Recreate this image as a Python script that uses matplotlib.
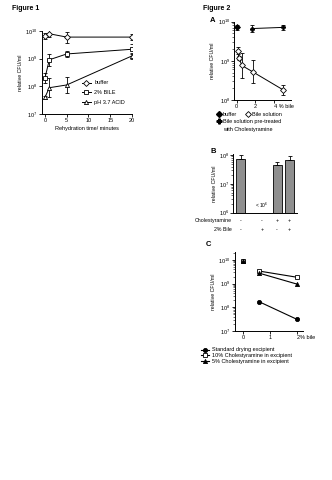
import numpy as np
import matplotlib.pyplot as plt
from matplotlib.lines import Line2D
from matplotlib.ticker import NullLocator, FixedLocator
import matplotlib.transforms as mtrans

plt.rcParams['font.family'] = ['Liberation Sans', 'DejaVu Sans']
plt.rcParams['mathtext.fontset'] = 'custom'
plt.rcParams['mathtext.rm'] = 'Liberation Sans'
plt.rcParams['mathtext.default'] = 'rm'

# ---- Figure 1: rehydration time course (log10 CFU/ml, +/- log10 SD)
time_min = [0, 1, 5, 20]
buffer_log = [9.82, 9.9, 9.78, 9.78]
buffer_err = [0.1, 0.12, 0.2, 0.1]
bile_log = [8.3, 8.96, 9.17, 9.34]
bile_err = [0.18, 0.22, 0.1, 0.18]
acid_log = [7.6, 7.95, 8.05, 9.1]
acid_err = [0.05, 0.35, 0.28, 0.12]

# ---- Figure 2A: % bile
a_buffer_x = [0]
a_buffer_log = [9.85]
a_buffer_err = [0.06]
a_bile_x = [0.1, 0.25, 0.55, 1.7, 4.95]
a_bile_log = [9.26, 9.08, 8.88, 8.72, 8.26]
a_bile_err = [0.1, 0.05, 0.32, 0.29, 0.12]
a_pre_x = [1.6, 4.95]
a_pre_log = [9.82, 9.85]
a_pre_err = [0.09, 0.07]

# ---- Figure 2B: bars (None = below detection)
b_log = [7.85, None, 7.65, 7.83]
b_err = [0.15, 0, 0.12, 0.13]
b_chol = ['-', '-', '+', '+']
b_bile = ['-', '+', '-', '+']

# ---- Figure 2C
c_x = [0.6, 2]
c_zero_log = 9.97
c_standard_log = [8.23, 7.49]
c_chol10_log = [9.53, 9.27]
c_chol5_log = [9.44, 8.98]

W, H = 332, 480
fig = plt.figure(figsize=(W / 100, H / 100), dpi=100)


def rect(l, t, r, b):
    return [l / W, 1 - b / H, (r - l) / W, (b - t) / H]


def logerr(lv, e):
    lv = np.array(lv, dtype=float)
    e = np.array(e, dtype=float)
    v = 10 ** lv
    return v, [v - 10 ** (lv - e), 10 ** (lv + e) - v]


def style(ax):
    for s in ['top', 'right']:
        ax.spines[s].set_visible(False)
    for s in ['left', 'bottom']:
        ax.spines[s].set_linewidth(0.7)
    ax.tick_params(which='major', labelsize=4, length=2, width=0.6, pad=1.2)
    ax.tick_params(which='minor', length=1.1, width=0.4)
    ax.set_yscale('log')


def decade_labels(ax, exps):
    ax.yaxis.set_major_locator(FixedLocator([10.0 ** e for e in exps]))
    ax.set_yticklabels(['$10^{%d}$' % e for e in exps])


eb = dict(color='k', lw=0.7, elinewidth=0.6, capsize=1.3, capthick=0.6, ms=3, mec='k', mew=0.6)

fig.text(12 / W, 1 - 9 / H, 'Figure 1', fontsize=5, fontweight='bold', va='center')
fig.text(203 / W, 1 - 8 / H, 'Figure 2', fontsize=5, fontweight='bold', va='center')

# Figure 1
ax1 = fig.add_axes(rect(41.7, 31, 132, 114))
style(ax1)
for vals, errs, mk in [(buffer_log, buffer_err, 'D'), (bile_log, bile_err, 's'), (acid_log, acid_err, '^')]:
    v, ye = logerr(vals, errs)
    ax1.errorbar(time_min, v, yerr=ye, marker=mk, mfc='white', **eb)
ax1.set_xlim(-0.75, 20)
ax1.set_ylim(1e7, 1e10)
decade_labels(ax1, [7, 8, 9, 10])
ax1.yaxis.set_minor_locator(NullLocator())
ax1.set_xticks([0, 5, 10, 15, 20])
ax1.set_xlabel('Rehydration time/ minutes', fontsize=4, labelpad=2)
ax1.set_ylabel('relative CFU/ml', fontsize=3.8, labelpad=1.5)
h1 = [Line2D([], [], color='k', lw=0.7, marker=m, ms=3, mfc='white', mec='k', mew=0.6)
      for m in ['D', 's', '^']]
ax1.legend(h1, ['buffer', '2% BILE', 'pH 3.7 ACID'], loc='upper left',
           bbox_to_anchor=(82 / W, 1 - 80.5 / H), bbox_transform=fig.transFigure,
           frameon=False, fontsize=4, handlelength=1.6, handletextpad=0.6,
           labelspacing=0.85, borderpad=0, borderaxespad=0)

# Figure 2A
axa = fig.add_axes(rect(234.3, 21.5, 291, 100))
style(axa)
v, ye = logerr(a_buffer_log, a_buffer_err)
axa.errorbar(a_buffer_x, v, yerr=ye, marker='D', mfc='k', **eb)
v, ye = logerr(a_bile_log, a_bile_err)
axa.errorbar(a_bile_x, v, yerr=ye, marker='D', mfc='white', **eb)
v, ye = logerr(a_pre_log, a_pre_err)
axa.errorbar(a_pre_x, v, yerr=ye, marker='P', mfc='k', **eb)
axa.set_xlim(-0.25, 5.8)
axa.set_ylim(1e8, 1e10)
decade_labels(axa, [8, 9, 10])
axa.set_xticks([0, 2, 4])
axa.set_xticklabels(['0', '2', '4 % bile'])
axa.get_xticklabels()[2].set_horizontalalignment('left')
axa.get_xticklabels()[2].set_x(3.8)
axa.set_ylabel('relative CFU/ml', fontsize=3.8, labelpad=1.5)
fig.text(213 / W, 1 - 21 / H, 'A', fontsize=5.5, fontweight='bold', va='center', ha='center')
hb = Line2D([], [], ls='none', marker='D', ms=3, mfc='k', mec='k')
hs = Line2D([], [], ls='none', marker='D', ms=3, mfc='white', mec='k', mew=0.6)
hp = Line2D([], [], ls='none', marker='P', ms=3.5, mfc='k', mec='k')
leg_a = axa.legend([hb, hs], ['buffer', 'Bile solution'], ncol=2, loc='upper left',
                   bbox_to_anchor=(217 / W, 1 - 111.5 / H), bbox_transform=fig.transFigure,
                   frameon=False, fontsize=4, handlelength=0.8, handletextpad=0.3,
                   columnspacing=1.6, borderpad=0, borderaxespad=0)
axa.add_artist(leg_a)
leg_a2 = axa.legend([hp], ['Bile solution pre-treated'], loc='upper left',
                    bbox_to_anchor=(217 / W, 1 - 119.3 / H), bbox_transform=fig.transFigure,
                    frameon=False, fontsize=4, handlelength=0.8, handletextpad=0.3,
                    borderpad=0, borderaxespad=0)
fig.canvas.draw()
tx0 = leg_a2.get_texts()[0].get_window_extent().x0 / fig.bbox.width
fig.text(tx0, 1 - 129.3 / H, 'with Cholestyramine', fontsize=4, va='center', ha='left')

# Figure 2B
bar_x = [0, 1.72, 2.92, 3.92]
axb = fig.add_axes(rect(233.3, 154, 297, 212.7))
style(axb)
for x, lv, e in zip(bar_x, b_log, b_err):
    if lv is None:
        axb.text(x, 10 ** 6.25, '< $10^6$', fontsize=3.5, ha='center', va='center')
        continue
    v = 10 ** lv
    axb.bar(x, v - 1e6, bottom=1e6, width=0.72, color='#8f8f8f', edgecolor='k', linewidth=0.6)
    axb.errorbar(x, v, yerr=[[0], [10 ** (lv + e) - v]], color='k', elinewidth=0.6,
                 capsize=1.3, capthick=0.6, ls='none')
axb.set_xlim(-0.58, 4.52)
axb.set_ylim(1e6, 10 ** 8.04)
decade_labels(axb, [6, 7, 8])
axb.set_xticks([])
axb.set_ylabel('relative CFU/ml', fontsize=3.8, labelpad=1.5)
fig.text(213 / W, 1 - 151.7 / H, 'B', fontsize=5.5, fontweight='bold', va='center', ha='center')
trb = mtrans.blended_transform_factory(axb.transData, fig.transFigure)
for row_y, name, signs in [(220.7, 'Cholestyramine', b_chol), (229.3, '2% Bile', b_bile)]:
    fig.text(232 / W, 1 - row_y / H, name, fontsize=3.8, ha='right', va='center')
    for x, s in zip(bar_x, signs):
        axb.text(x, 1 - row_y / H, s, transform=trb, fontsize=3.8, ha='center', va='center')

# Figure 2C
axc = fig.add_axes(rect(235, 251.7, 303, 331))
style(axc)
for vals, mk, fc in [(c_standard_log, 'o', 'k'), (c_chol10_log, 's', 'white'), (c_chol5_log, '^', 'k')]:
    axc.plot(c_x, 10 ** np.array(vals), color='k', lw=0.8, marker=mk, ms=3, mfc=fc, mec='k', mew=0.6)
    axc.plot([0], [10 ** c_zero_log], ls='none', marker=mk, ms=3, mfc=fc, mec='k', mew=0.6)
axc.set_xlim(-0.31, 2.22)
axc.set_ylim(1e7, 10 ** 10.35)
decade_labels(axc, [7, 8, 9, 10])
axc.set_xticks([0, 1, 2])
axc.set_xticklabels(['0', '1', '2% bile'])
axc.get_xticklabels()[2].set_horizontalalignment('left')
axc.get_xticklabels()[2].set_x(1.9)
axc.set_ylabel('relative CFU/ml', fontsize=3.8, labelpad=1.5)
fig.text(208 / W, 1 - 245 / H, 'C', fontsize=5.5, fontweight='bold', va='center', ha='center')
hc = [Line2D([], [], color='k', lw=0.8, marker=m, ms=3, mfc=fc, mec='k', mew=0.6)
      for m, fc in [('o', 'k'), ('s', 'white'), ('^', 'k')]]
axc.legend(hc, ['Standard drying excipient', '10% Cholestyramine in excipient',
                '5% Cholestyramine in excipient'], loc='upper left',
           bbox_to_anchor=(201 / W, 1 - 347.5 / H), bbox_transform=fig.transFigure,
           frameon=False, fontsize=4, handlelength=1.5, handletextpad=0.4,
           labelspacing=0.15, borderpad=0, borderaxespad=0)

fig.savefig('out.png', dpi=100)
